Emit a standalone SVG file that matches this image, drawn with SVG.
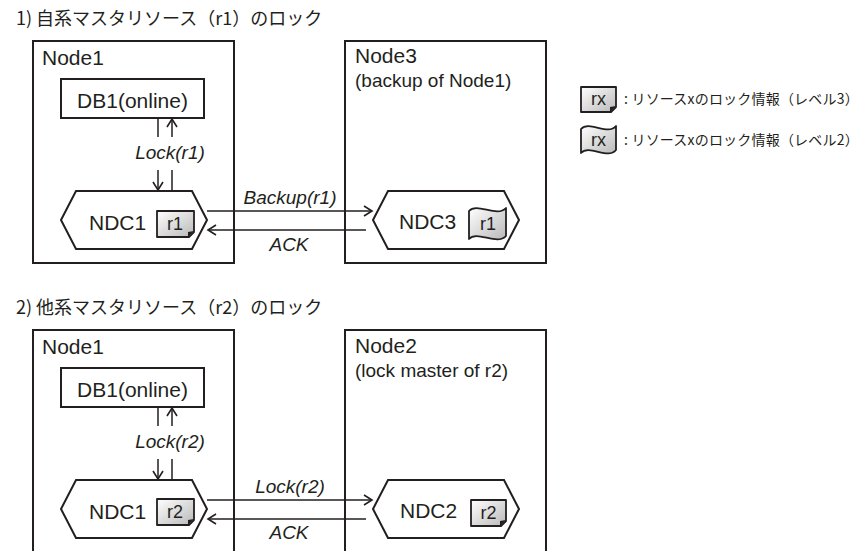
<svg xmlns="http://www.w3.org/2000/svg" width="863" height="551" viewBox="0 0 863 551">
<defs>
<linearGradient id="g" x1="0" y1="0" x2="1" y2="1">
<stop offset="0" stop-color="#ffffff"/>
<stop offset="1" stop-color="#b9b9b9"/>
</linearGradient>
<marker id="ah" markerWidth="12" markerHeight="12" refX="10" refY="6" orient="auto" markerUnits="userSpaceOnUse">
<path d="M2,1 L10,6 L2,11" fill="none" stroke="#231f20" stroke-width="1.6"/>
</marker>
<style>
.box{fill:#fff;stroke:#231f20;stroke-width:2}
.hex{fill:#fff;stroke:#231f20;stroke-width:2;stroke-linejoin:miter}
.res{fill:url(#g);stroke:#231f20;stroke-width:1.8;stroke-linejoin:round}
.ear{fill:#231f20}
.ln{fill:none;stroke:#231f20;stroke-width:1.5}
.t{font-family:"Liberation Sans",Arial,sans-serif;font-size:21px;fill:#231f20}
.s{font-family:"Liberation Sans",Arial,sans-serif;font-size:19px;fill:#231f20}
.i{font-family:"Liberation Sans",Arial,sans-serif;font-size:19px;font-style:italic;fill:#231f20;text-anchor:middle}
.r{font-family:"Liberation Sans",Arial,sans-serif;font-size:18px;fill:#231f20;text-anchor:middle}
.jp{font-family:"Noto Sans CJK JP","Noto Sans",sans-serif;font-size:18px;fill:#231f20}
.lg{font-family:"Noto Sans CJK JP","Noto Sans",sans-serif;font-size:14px;letter-spacing:0.2px;fill:#231f20}
</style>
</defs>

<!-- Section 1 -->
<text class="jp" x="16" y="25">1) 自系マスタリソース（r1）のロック</text>

<g id="node1-a">
<rect class="box" x="33" y="41" width="201" height="222"/>
<text class="t" x="42" y="65">Node1</text>
</g>
<g id="db1-a">
<rect class="box" x="61" y="79" width="143" height="39"/>
<text class="t" x="132.5" y="108" text-anchor="middle">DB1(online)</text>
</g>
<g id="ndc1-a">
<polygon class="hex" points="76,191 192,191 207,220 192,249 76,249 61,220"/>
<text class="t" x="89" y="230">NDC1</text>
<path class="res" d="M157,211 H194 V232 L189,237 H157 Z"/>
<path class="ear" d="M194,231 L188,237 L188,232 Z"/>
<text class="r" x="175" y="230">r1</text>
</g>
<g id="node3">
<rect class="box" x="345" y="41" width="201" height="222"/>
<text class="t" x="355" y="63">Node3</text>
<text class="s" x="355" y="87">(backup of Node1)</text>
</g>
<g id="ndc3">
<polygon class="hex" points="388,191 504,191 519,220 504,249 388,249 373,220"/>
<text class="t" x="399" y="229">NDC3</text>
<path class="res" d="M469,211 C477,202 497,218 506,208 L506,236 C497,246 477,230 469,239 Z"/>
<text class="r" x="488" y="230">r1</text>
</g>

<!-- Legend -->
<g id="legend-l3">
<path class="res" d="M581,87 H616 V107 L611,112 H581 Z"/>
<path class="ear" d="M616,106 L610,112 L610,107 Z"/>
<text class="r" x="598.5" y="105">rx</text>
<text class="lg" x="624" y="104">: リソースxのロック情報（レベル3）</text>
</g>
<g id="legend-l2">
<path class="res" d="M581,129 C589,120 608,136 616,126 L616,150 C608,160 589,144 581,153 Z"/>
<text class="r" x="598.5" y="146">rx</text>
<text class="lg" x="624" y="145">: リソースxのロック情報（レベル2）</text>
</g>

<!-- Section 2 -->
<text class="jp" x="16" y="314">2) 他系マスタリソース（r2）のロック</text>

<g id="node1-b">
<rect class="box" x="33" y="330" width="201" height="224"/>
<text class="t" x="42" y="354">Node1</text>
</g>
<g id="db1-b">
<rect class="box" x="61" y="368" width="143" height="39"/>
<text class="t" x="132.5" y="397" text-anchor="middle">DB1(online)</text>
</g>
<g id="ndc1-b">
<polygon class="hex" points="76,480 192,480 207,509 192,538 76,538 61,509"/>
<text class="t" x="89" y="519">NDC1</text>
<path class="res" d="M157,499 H194 V520 L189,525 H157 Z"/>
<path class="ear" d="M194,519 L188,525 L188,520 Z"/>
<text class="r" x="175" y="518">r2</text>
</g>
<g id="node2">
<rect class="box" x="345" y="330" width="201" height="224"/>
<text class="t" x="355" y="353">Node2</text>
<text class="s" x="355" y="377">(lock master of r2)</text>
</g>
<g id="ndc2">
<polygon class="hex" points="388,480 504,480 519,509 504,538 388,538 373,509"/>
<text class="t" x="400" y="518">NDC2</text>
<path class="res" d="M471,500 H506 V521 L501,526 H471 Z"/>
<path class="ear" d="M506,520 L500,526 L500,521 Z"/>
<text class="r" x="488.5" y="519">r2</text>
</g>

<!-- Connectors -->
<g id="connectors">
<line class="ln" x1="158" y1="118" x2="158" y2="137"/>
<line class="ln" x1="158" y1="170" x2="158" y2="190" marker-end="url(#ah)"/>
<line class="ln" x1="172" y1="137" x2="172" y2="119" marker-end="url(#ah)"/>
<line class="ln" x1="172" y1="170" x2="172" y2="191"/>
<text class="i" x="170" y="159">Lock(r1)</text>
<line class="ln" x1="207" y1="211" x2="372" y2="211" marker-end="url(#ah)"/>
<text class="i" x="290" y="204">Backup(r1)</text>
<line class="ln" x1="366" y1="230" x2="208" y2="230" marker-end="url(#ah)"/>
<text class="i" x="289" y="251">ACK</text>

<line class="ln" x1="158" y1="407" x2="158" y2="426"/>
<line class="ln" x1="158" y1="459" x2="158" y2="479" marker-end="url(#ah)"/>
<line class="ln" x1="172" y1="426" x2="172" y2="408" marker-end="url(#ah)"/>
<line class="ln" x1="172" y1="459" x2="172" y2="480"/>
<text class="i" x="170" y="448">Lock(r2)</text>
<line class="ln" x1="207" y1="500" x2="372" y2="500" marker-end="url(#ah)"/>
<text class="i" x="290" y="493">Lock(r2)</text>
<line class="ln" x1="366" y1="519" x2="208" y2="519" marker-end="url(#ah)"/>
<text class="i" x="289" y="539">ACK</text>
</g>
</svg>
